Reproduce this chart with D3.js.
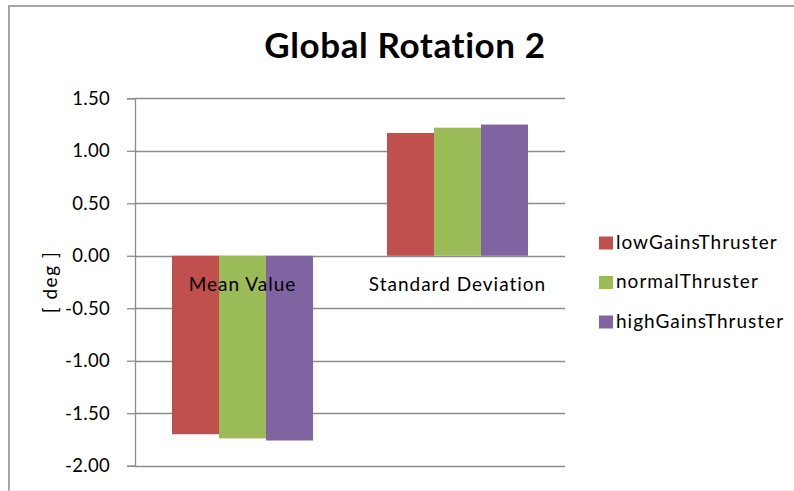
<!DOCTYPE html>
<html>
<head>
<meta charset="utf-8">
<script src="https://cdn.jsdelivr.net/npm/d3@7"></script>
<style>
  html, body { margin: 0; padding: 0; background: #fff; }
  svg { display: block; }
  text { font-family: Lato, "Open Sans", sans-serif; fill: #000; }
</style>
</head>
<body>
<svg id="chart" width="794" height="491"></svg>
<script>
// Chart data
const title = "Global Rotation 2";
const yAxisTitle = "[ deg ]";
const categories = ["Mean Value", "Standard Deviation"];
const seriesNames = ["lowGainsThruster", "normalThruster", "highGainsThruster"];
const lowGainsThruster = [-1.70, 1.17];
const normalThruster = [-1.74, 1.22];
const highGainsThruster = [-1.76, 1.25];
const yTicks = [-2.0, -1.5, -1.0, -0.5, 0.0, 0.5, 1.0, 1.5];
const seriesColors = ["#C0504D", "#9BBB59", "#8064A2"];

const seriesValues = [lowGainsThruster, normalThruster, highGainsThruster];

const svg = d3.select("#chart");

// Outer chart frame
svg.append("path")
  .attr("d", "M9,491 V6 H794")
  .attr("fill", "none")
  .attr("stroke", "#a6a6a6")
  .attr("stroke-width", 2);
svg.append("line")
  .attr("x1", 9).attr("x2", 794).attr("y1", 490.5).attr("y2", 490.5)
  .attr("stroke", "#ececec").attr("stroke-width", 1);

// Plot area
const plot = { left: 135, right: 565, top: 98.3, bottom: 465.7 };

const y = d3.scaleLinear()
  .domain([-2, 1.5])
  .range([plot.bottom, plot.top]);

const x0 = d3.scaleBand()
  .domain(categories)
  .range([plot.left, plot.right])
  .paddingInner(0)
  .paddingOuter(0);

const x1 = d3.scaleBand()
  .domain(seriesNames)
  .range([0, x0.bandwidth()])
  .paddingInner(0)
  .paddingOuter(0.787);

// Horizontal gridlines
svg.append("g")
  .selectAll("line")
  .data(yTicks)
  .join("line")
  .attr("x1", plot.left)
  .attr("x2", plot.right)
  .attr("y1", d => Math.round(y(d)) + 0.5)
  .attr("y2", d => Math.round(y(d)) + 0.5)
  .attr("stroke", "#8c8c8c")
  .attr("stroke-width", 1.3);

// Value axis, plain hyphen for negatives
const fmt = d3.format(".2f");
const yAxis = d3.axisLeft(y)
  .tickValues(yTicks)
  .tickFormat(d => fmt(d).replace("\u2212", "-"))
  .tickSize(8)
  .tickPadding(17);

const yg = svg.append("g")
  .attr("transform", `translate(${plot.left},0)`)
  .call(yAxis);
yg.select(".domain").attr("stroke", "#8c8c8c").attr("stroke-width", 1.3);
yg.selectAll(".tick line").attr("stroke", "#8c8c8c").attr("stroke-width", 1.3);
yg.selectAll(".tick text")
  .attr("font-family", "Lato, sans-serif")
  .attr("font-size", 18.5)
  .attr("letter-spacing", 0.3)
  .attr("fill", "#000");

// Bars
const groups = svg.append("g")
  .selectAll("g")
  .data(categories)
  .join("g")
  .attr("transform", c => `translate(${x0(c)},0)`);

groups.selectAll("rect")
  .data((c, ci) => seriesNames.map((s, si) => ({ s, si, v: seriesValues[si][ci] })))
  .join("rect")
  .attr("x", d => x1(d.s))
  .attr("width", x1.bandwidth())
  .attr("y", d => Math.min(y(d.v), y(0)))
  .attr("height", d => Math.abs(y(d.v) - y(0)))
  .attr("fill", d => seriesColors[d.si]);

// Category labels sit just below the zero line
svg.append("g")
  .selectAll("text")
  .data(categories)
  .join("text")
  .attr("x", c => x0(c) + x0.bandwidth() / 2)
  .attr("y", y(0) + 35)
  .attr("text-anchor", "middle")
  .attr("font-size", 19)
  .attr("letter-spacing", 1)
  .text(c => c);

// Y axis title
svg.append("text")
  .attr("transform", "translate(57,282) rotate(-90)")
  .attr("text-anchor", "middle")
  .attr("font-size", 19)
  .attr("letter-spacing", 1.5)
  .text(yAxisTitle);

// Chart title
svg.append("text")
  .attr("x", 405)
  .attr("y", 58)
  .attr("text-anchor", "middle")
  .attr("font-size", 35)
  .attr("font-weight", "bold")
  .attr("letter-spacing", 0.6)
  .text(title);

// Legend
const legendY = d3.scalePoint()
  .domain(seriesNames)
  .range([243, 322]);

const legend = svg.append("g")
  .selectAll("g")
  .data(seriesNames)
  .join("g")
  .attr("transform", s => `translate(599,${legendY(s)})`);

legend.append("rect")
  .attr("x", 0).attr("y", -6.5)
  .attr("width", 14).attr("height", 13)
  .attr("fill", (s, i) => seriesColors[i]);

legend.append("text")
  .attr("x", 17)
  .attr("y", 5.5)
  .attr("font-size", 19)
  .attr("letter-spacing", 1)
  .text(s => s);
</script>
</body>
</html>
